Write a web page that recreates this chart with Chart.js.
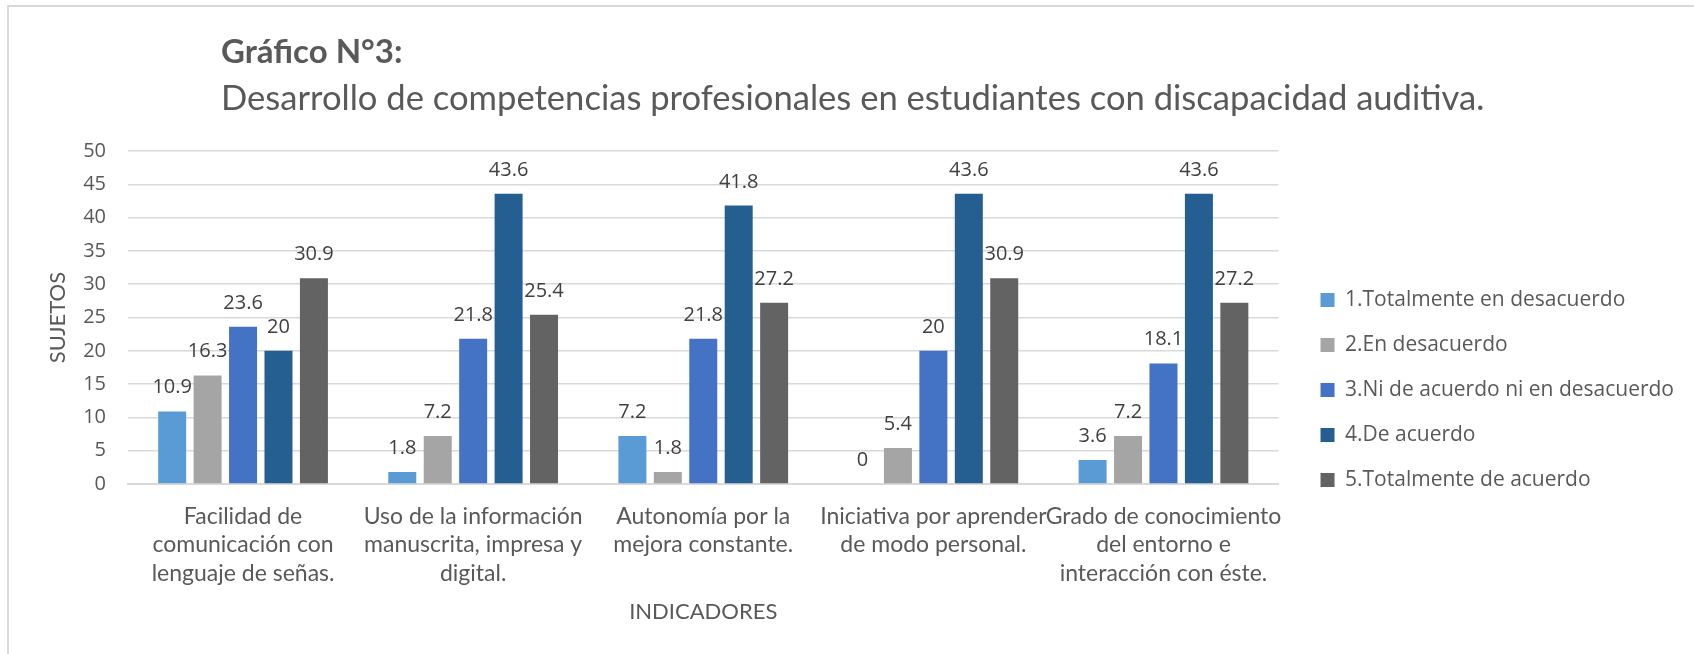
<!DOCTYPE html>
<html>
<head>
<meta charset="utf-8">
<script src="https://cdn.jsdelivr.net/npm/chart.js@4"></script>
<style>
  html, body { margin: 0; padding: 0; background: #fff; }
  #wrap { position: relative; width: 1694px; height: 654px; overflow: hidden; }
  #frame { position: absolute; left: 7px; top: 5px; right: -10px; bottom: -10px;
           border-top: 2px solid #d9d9d9; border-left: 2px solid #d9d9d9; }
  .ttl { position: absolute; left: 221px; color: #595959; font-family: Lato, sans-serif; white-space: nowrap; }
  #t1 { top: 30px; font-size: 33px; font-weight: bold; }
  #t2 { top: 76px; font-size: 34.6px; }
  canvas { position: absolute; left: 0; top: 0; }
</style>
</head>
<body>
<div id="wrap">
  <div id="frame"></div>
  <canvas id="chart" width="1694" height="654"></canvas>
  <div class="ttl" id="t1">Gráfico N°3:</div>
  <div class="ttl" id="t2">Desarrollo de competencias profesionales en estudiantes con discapacidad auditiva.</div>
</div>
<script>
/* ---------- datos ---------- */
const indicadores = [
  ['Facilidad de', 'comunicación con', 'lenguaje de señas.'],
  ['Uso de la información', 'manuscrita, impresa y', 'digital.'],
  ['Autonomía por la', 'mejora constante.'],
  ['Iniciativa por aprender', 'de modo personal.'],
  ['Grado de conocimiento', 'del entorno e', 'interacción con éste.']
];
const totalDesacuerdo = [10.9, 1.8, 7.2, 0, 3.6];
const enDesacuerdo    = [16.3, 7.2, 1.8, 5.4, 7.2];
const niNi            = [23.6, 21.8, 21.8, 20, 18.1];
const deAcuerdo       = [20, 43.6, 41.8, 43.6, 43.6];
const totalAcuerdo    = [30.9, 25.4, 27.2, 30.9, 27.2];

const textColor = '#595959';
const LEGEND_GAP = 18;   // espacio extra entre el área del gráfico y la leyenda

/* ---------- etiquetas sobre barras ---------- */
const valueLabels = {
  id: 'valueLabels',
  afterDatasetsDraw(chart) {
    const ctx = chart.ctx;
    ctx.save();
    ctx.font = '20px "Open Sans", sans-serif';
    ctx.fillStyle = '#404040';
    ctx.textAlign = 'center';
    ctx.textBaseline = 'alphabetic';
    chart.data.datasets.forEach((ds, i) => {
      chart.getDatasetMeta(i).data.forEach((bar, j) => {
        ctx.fillText(String(ds.data[j]), bar.x, bar.y - 18);
      });
    });
    ctx.restore();
  }
};

/* ---------- leyenda: deja un hueco a su izquierda ---------- */
const legendGap = {
  id: 'legendGap',
  beforeLayout(chart) {
    const lg = chart.legend;
    if (!lg || lg._gapDone) return;
    const fit = lg.fit.bind(lg);
    lg.fit = function () { fit(); this.width += LEGEND_GAP; };
    const draw = lg.draw.bind(lg);
    lg.draw = function () { this.left += LEGEND_GAP; draw(); this.left -= LEGEND_GAP; };
    lg._gapDone = true;
  }
};

new Chart(document.getElementById('chart'), {
  type: 'bar',
  data: {
    labels: indicadores,
    datasets: [
      { label: '1.Totalmente en desacuerdo', data: totalDesacuerdo, backgroundColor: '#5b9bd5' },
      { label: '2.En desacuerdo', data: enDesacuerdo, backgroundColor: '#a5a5a5' },
      { label: '3.Ni de acuerdo ni en desacuerdo', data: niNi, backgroundColor: '#4472c4' },
      { label: '4.De acuerdo', data: deAcuerdo, backgroundColor: '#255e91' },
      { label: '5.Totalmente de acuerdo', data: totalAcuerdo, backgroundColor: '#636363' }
    ]
  },
  options: {
    responsive: false,
    animation: false,
    categoryPercentage: 0.77,
    barPercentage: 0.79,
    layout: { padding: { top: 151, left: 45, right: 10, bottom: 25 } },
    plugins: {
      legend: {
        position: 'right',
        labels: {
          color: textColor,
          font: { family: '"Open Sans", sans-serif', size: 21 },
          boxWidth: 14, boxHeight: 14, padding: 24
        }
      },
      tooltip: { enabled: false }
    },
    scales: {
      x: {
        grid: { display: false },
        border: { color: '#d9d9d9', width: 2 },
        ticks: { color: textColor, font: { family: 'Lato, sans-serif', size: 23, lineHeight: 1.24 }, padding: 10, maxRotation: 0, autoSkip: false },
        title: { display: true, text: 'INDICADORES', color: textColor, font: { family: 'Lato, sans-serif', size: 22 }, padding: { top: 1 } }
      },
      y: {
        min: 0, max: 50,
        afterFit(scale) { scale.width = 83; },
        ticks: { stepSize: 5, color: textColor, font: { family: '"Open Sans", sans-serif', size: 20 }, padding: 22 },
        grid: { color: '#d9d9d9', lineWidth: 1.5, drawTicks: false },
        border: { display: false },
        title: { display: true, text: 'SUJETOS', color: textColor, font: { family: 'Lato, sans-serif', size: 22 }, padding: 0 }
      }
    }
  },
  plugins: [valueLabels, legendGap]
});
</script>
</body>
</html>
